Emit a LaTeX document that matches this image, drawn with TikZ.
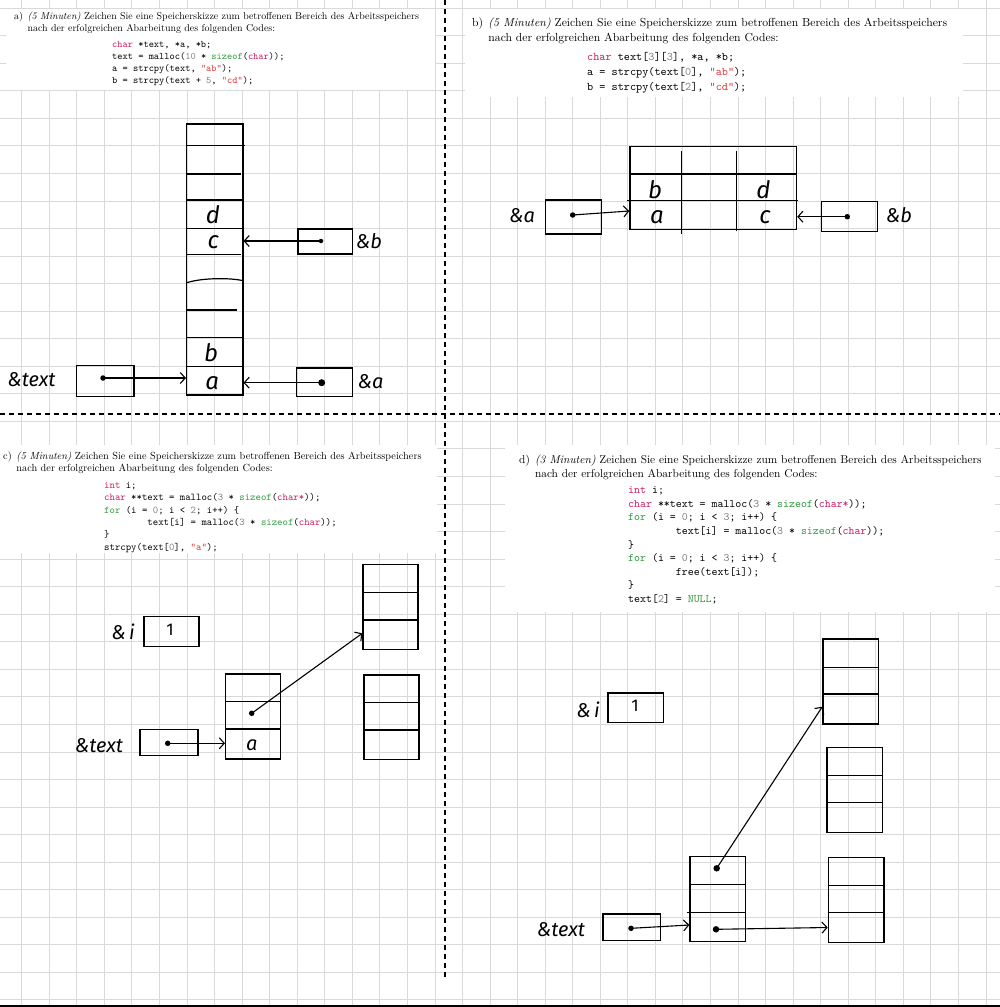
\documentclass[tikz,border=0pt]{standalone}
\usepackage{fontspec}
\usepackage{graphicx}
\usetikzlibrary{arrows.meta}
\newfontfamily\handfont{Fira Sans}
\definecolor{gridc}{HTML}{D9D9D9}
\definecolor{kwc}{HTML}{C81E64}
\definecolor{strc}{HTML}{E0383A}
\definecolor{fnc}{HTML}{2E9A3E}
\definecolor{numc}{HTML}{808080}
\newcommand\cKw[1]{\textcolor{kwc}{#1}}
\newcommand\cStr[1]{\textcolor{strc}{#1}}
\newcommand\cFn[1]{\textcolor{fnc}{#1}}
\newcommand\cNum[1]{\textcolor{numc}{#1}}
\newcommand\tab{\phantom{xxxxxxxx}}
\newcommand\taskbody[2]{\begin{tabular}{@{}l@{\hspace{0.45em}}l@{}}#1) & \textit{(#2 Minuten)} Zeichen Sie eine Speicherskizze zum betroffenen Bereich des Arbeitsspeichers\\ & nach der erfolgreichen Abarbeitung des folgenden Codes:\end{tabular}}
\newcommand\codeA{\ttfamily\begin{tabular}{@{}l@{}}
\cKw{char} *text, *a, *b;\\
text = malloc(\cNum{10} * \cFn{sizeof}(\cKw{char}));\\
a = strcpy(text, \cStr{"ab"});\\
b = strcpy(text + \cNum{5}, \cStr{"cd"});
\end{tabular}}
\newcommand\codeB{\ttfamily\begin{tabular}{@{}l@{}}
\cKw{char} text[\cNum{3}][\cNum{3}], *a, *b;\\
a = strcpy(text[\cNum{0}], \cStr{"ab"});\\
b = strcpy(text[\cNum{2}], \cStr{"cd"});
\end{tabular}}
\newcommand\codeC{\ttfamily\begin{tabular}{@{}l@{}}
\cKw{int} i;\\
\cKw{char} **text = malloc(\cNum{3} * \cFn{sizeof}(\cKw{char*}));\\
\cFn{for} (i = \cNum{0}; i < \cNum{2}; i++) \{\\
\tab text[i] = malloc(\cNum{3} * \cFn{sizeof}(\cKw{char}));\\
\}\\
strcpy(text[\cNum{0}], \cStr{"a"});
\end{tabular}}
\newcommand\codeD{\ttfamily\begin{tabular}{@{}l@{}}
\cKw{int} i;\\
\cKw{char} **text = malloc(\cNum{3} * \cFn{sizeof}(\cKw{char*}));\\
\cFn{for} (i = \cNum{0}; i < \cNum{3}; i++) \{\\
\tab text[i] = malloc(\cNum{3} * \cFn{sizeof}(\cKw{char}));\\
\}\\
\cFn{for} (i = \cNum{0}; i < \cNum{3}; i++) \{\\
\tab free(text[i]);\\
\}\\
text[\cNum{2}] = \cFn{NULL};
\end{tabular}}
\tikzset{
  gridl/.style={draw=gridc, line width=0.9pt},
  sepline/.style={line width=1.3pt, dash pattern=on 5pt off 4pt},
  box/.style={line width=1.2pt},
  cellnode/.style={draw, line width=1.2pt, inner sep=0, anchor=north west},
  ptr/.style={line width=1.1pt, -{Straight Barb[length=5pt,width=11pt,line width=1.1pt]}},
  dotc/.style={circle, fill, inner sep=0, minimum size=5.5pt},
  hw/.style={font=\handfont\itshape\fontsize{20}{20}\selectfont, inner sep=0},
  hwl/.style={font=\handfont\itshape\fontsize{24}{24}\selectfont, inner sep=0},
  txt/.style={anchor=north west, inner sep=0},
  whitebox/.style={fill=white, draw=none}
}
\begin{document}
\begin{tikzpicture}[x=1pt,y=-1pt]
\useasboundingbox (0,0) rectangle (1000,1007);
\fill[white] (0,0) rectangle (1000,1007);
% grid
\foreach \k in {0,...,35} \draw[gridl] ({21.7+27.55*\k},0) -- ({21.7+27.55*\k},1007);
\foreach \j in {-4,...,32} \draw[gridl] (0,{118.3+27.55*\j}) -- (1000,{118.3+27.55*\j});
% white snippet areas
\fill[whitebox] (6,9) rectangle (435,90);
\fill[whitebox] (465,9) rectangle (963,97);
\fill[whitebox] (0,445) rectangle (437,553);
\fill[whitebox] (505,445) rectangle (995,612);
% separators
\draw[sepline] (445,0) -- (445,980);
\draw[sepline] (0,414) -- (1000,414);
\draw[line width=2pt] (0,1006) -- (1000,1006);
% task texts
\node[txt] (ta) at (14,10.75) {\scalebox{0.995}{\taskbody{a}{5}}};
\node[txt] (ka) at (112,38.75) {\scalebox{0.995}{\codeA}};
\node[txt] (tb) at (472,16.25) {\scalebox{1.166}{\renewcommand\arraystretch{1.05}\taskbody{b}{5}}};
\node[txt] (kb) at (587,50.25) {\scalebox{1.166}{\renewcommand\arraystretch{1.05}\codeB}};
\node[txt] (tc) at (3,450.5) {\scalebox{1.03}{\taskbody{c}{5}}};
\node[txt] (kc) at (104,479.5) {\scalebox{1.03}{\codeC}};
\node[txt] (td) at (519,453.9) {\scalebox{1.135}{\taskbody{d}{3}}};
\node[txt] (kd) at (628,483.9) {\scalebox{1.135}{\codeD}};

% ---------- a) ----------
\node[cellnode, minimum width=56.3pt, minimum height=271pt] (colA) at (186,123.3) {};
\draw[box] (186,145.7) -- (245,145.7);
\draw[box] (186,174) -- (240.7,174);
\draw[box] (186,200) -- (242.3,200);
\draw[box] (186,228.3) -- (242.3,228.3);
\draw[box] (186,254.3) -- (240.7,254.3);
\draw[box] (186,283) .. controls (200,278) and (228,277.5) .. (242.3,280.5);
\draw[box] (186,310) -- (236.7,310);
\draw[box] (186,337.7) -- (242.3,337.7);
\draw[box] (186,366.7) -- (242.3,366.7);
\node[hwl] (ld) at (213,214.5) {d};
\node[hwl] (lc) at (213.3,241.7) {c};
\node[hwl] (lb) at (211,352.5) {b};
\node[hwl] (la) at (212.3,383) {a};
\node[cellnode, minimum width=57.3pt, minimum height=30.7pt] (ptA) at (76,365) {};
\node[dotc] (dA1) at (103,378) {};
\draw[ptr] (dA1.center) -- (colA.west |- dA1);
\node[hw] (lblA1) at (31.5,380) {\&text};
\node[cellnode, minimum width=54.4pt, minimum height=25pt] (pbA) at (297.3,228.3) {};
\node[dotc, minimum size=4.5pt] (dA2) at (321,241) {};
\draw[ptr] (dA2.center) -- (colA.east |- dA2);
\node[hw] (lblA2) at (369,241) {\&b};
\node[cellnode, minimum width=56pt, minimum height=28.4pt] (paA) at (296,367.3) {};
\node[dotc, minimum size=7pt] (dA3) at (321.7,382.7) {};
\draw[ptr] (dA3.center) -- (colA.east |- dA3);
\node[hw] (lblA3) at (370.5,381.7) {\&a};

% ---------- b) ----------
\node[cellnode, minimum width=166.7pt, minimum height=83pt] (tabB) at (629.3,146) {};
\draw[box] (629.3,174) -- (796.7,174);
\draw[box] (626.7,200.7) -- (798,200.7);
\draw[box] (681.7,150.7) -- (681.7,234.3);
\draw[box] (736.7,150.7) -- (736.7,231);
\node[hwl] (lbb) at (655,189.3) {b};
\node[hwl] (lbd) at (763.3,190) {d};
\node[hwl] (lba) at (657,217.3) {a};
\node[hwl] (lbc) at (765,217.3) {c};
\node[cellnode, minimum width=55.7pt, minimum height=34pt] (paB) at (545,199.3) {};
\node[dotc] (dB1) at (572.7,215) {};
\coordinate (tB1) at (629.3,211);
\draw[ptr] (dB1.center) -- (tB1);
\node[hw] (lblB1) at (522,216) {\&a};
\node[cellnode, minimum width=55.7pt, minimum height=29.7pt] (pbB) at (821,201) {};
\node[dotc] (dB2) at (847.3,216.7) {};
\draw[ptr] (dB2.center) -- (tabB.east |- dB2);
\node[hw] (lblB2) at (899,215) {\&b};

% ---------- c) ----------
\node[hw] (lblC1) at (123,632) {\&\,i};
\node[cellnode, minimum width=55pt, minimum height=29.7pt] (iC) at (143.3,616) {};
\node[hw, font=\handfont\fontsize{17}{17}\selectfont] (oneC) at (170,630) {1};
\node[cellnode, minimum width=55pt, minimum height=85pt] (arrC) at (225,673.3) {};
\draw[box] (225,701.7) -- (280,701.7);
\draw[box] (225,729) -- (280,729);
\node[hw] (laC) at (251.7,745.5) {a};
\node[cellnode, minimum width=55pt, minimum height=85pt] (c1C) at (362.3,564) {};
\draw[box] (362.3,592.7) -- (417.3,592.7);
\draw[box] (362.3,620) -- (417.3,620);
\node[cellnode, minimum width=55pt, minimum height=84.7pt] (c2C) at (363.3,674.3) {};
\draw[box] (363.3,702.3) -- (418.3,702.3);
\draw[box] (363.3,730) -- (418.3,730);
\node[dotc] (dC1) at (251.7,713.3) {};
\coordinate (tC1) at (362.3,633.3);
\draw[ptr] (dC1.center) -- (tC1);
\node[cellnode, minimum width=58pt, minimum height=26pt] (ptC) at (139.3,729) {};
\node[dotc] (dC2) at (167.7,743.3) {};
\draw[ptr] (dC2.center) -- (arrC.west |- dC2);
\node[hw] (lblC2) at (99,746) {\&text};

% ---------- d) ----------
\node[hw] (lblD1) at (588,710) {\&\,i};
\node[cellnode, minimum width=55.4pt, minimum height=29.4pt] (iD) at (607.3,692.3) {};
\node[hw, font=\handfont\fontsize{17}{17}\selectfont] (oneD) at (635,706) {1};
\node[cellnode, minimum width=55.4pt, minimum height=85pt] (c1D) at (822.3,638.3) {};
\draw[box] (822.3,667.3) -- (877.7,667.3);
\draw[box] (822.3,694) -- (877.7,694);
\node[cellnode, minimum width=55.4pt, minimum height=85pt] (c2D) at (826.3,746.7) {};
\draw[box] (826.3,775.7) -- (881.7,775.7);
\draw[box] (826.3,802.7) -- (881.7,802.7);
\node[cellnode, minimum width=55.6pt, minimum height=85pt] (c3D) at (827.7,856.7) {};
\draw[box] (827.7,885.7) -- (883.3,885.7);
\draw[box] (827.7,912.3) -- (883.3,912.3);
\node[cellnode, minimum width=55.7pt, minimum height=85pt] (arrD) at (689.3,855.7) {};
\draw[box] (689.3,884.3) -- (745,884.3);
\draw[box] (686.7,912.3) -- (745,912.3);
\node[dotc, minimum size=6.5pt] (dD1) at (716.7,868.3) {};
\coordinate (tD1) at (822.3,706.7);
\draw[ptr] (dD1.center) -- (tD1);
\node[dotc, minimum size=6.5pt] (dD2) at (716,929.3) {};
\coordinate (tD2) at (827.7,927.5);
\draw[ptr] (dD2.center) -- (tD2);
\node[cellnode, minimum width=57.7pt, minimum height=26.7pt] (ptD) at (602.3,913.3) {};
\node[dotc] (dD3) at (631,928.3) {};
\coordinate (tD3) at (689.3,925);
\draw[ptr] (dD3.center) -- (tD3);
\node[hw] (lblD2) at (561,930) {\&text};
\end{tikzpicture}
\end{document}
